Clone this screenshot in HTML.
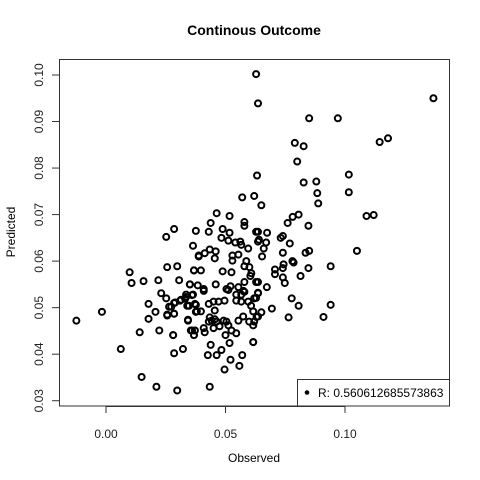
<!DOCTYPE html>
<html><head><meta charset="utf-8"><style>
html,body{margin:0;padding:0;background:#fff;}
svg{display:block;font-family:"Liberation Sans",Arial,sans-serif;}
</style></head><body>
<svg id="chart" width="480" height="480" viewBox="0 0 480 480">
<rect width="480" height="480" fill="#fff"/>
<text x="254" y="35" text-anchor="middle" font-size="14" font-weight="bold">Continous Outcome</text>
<text x="254" y="462" text-anchor="middle" font-size="12">Observed</text>
<text x="0" y="0" transform="translate(15,232) rotate(-90)" text-anchor="middle" font-size="12">Predicted</text>
<g id="axes"></g>
<g id="pts"></g>
<rect x="59.5" y="59.5" width="390" height="346.5" fill="none" stroke="#333" stroke-width="1"/>
<g>
<rect x="297.5" y="379.5" width="152" height="26.5" fill="#fff" stroke="#333" stroke-width="1"/>
<circle cx="307" cy="392.5" r="2.3" fill="#000"/>
<text x="318" y="397" font-size="12">R: 0.560612685573863</text>
</g>
</svg>
<script>
const xTicks=[0.00,0.05,0.10];
const xTickLabels=["0.00","0.05","0.10"];
const yTicks=[0.03,0.04,0.05,0.06,0.07,0.08,0.09,0.10];
const yTickLabels=["0.03","0.04","0.05","0.06","0.07","0.08","0.09","0.10"];
const observed=[0.0628,0.0636,0.085,0.097,0.137,0.079,0.0827,0.080,0.1145,0.118,0.0632,0.1016,0.0827,0.088,0.1016,0.0884,0.0888,0.062,0.065,0.109,0.112,0.0806,0.0781,0.076,0.0847,0.0628,0.0674,0.064,0.067,0.0731,0.074,0.0769,0.066,0.0653,0.074,0.0835,0.085,0.105,0.078,0.0785,0.0743,0.074,0.0707,0.0707,0.0847,0.094,0.0814,0.074,0.0748,0.0636,0.0673,0.0636,0.062,0.0777,0.0806,0.094,0.0694,0.065,0.063,0.062,0.0764,0.091,0.0616,
0.0285,0.0252,0.0376,0.0364,0.0388,0.0099,0.0107,0.0157,0.0219,0.0256,0.0298,0.0368,0.0306,0.0351,0.0231,0.0252,0.0178,0.0207,0.0178,0.0273,0.0285,0.0314,0.0335,0.036,0.034,0.0376,0.0285,0.0256,0.0376,0.0343,-0.0124,-0.0017,0.0141,0.0223,0.0281,0.0355,0.0368,0.0062,0.0285,0.0322,0.0149,0.0211,0.0298,
0.057,0.0463,0.0517,0.0438,0.0579,0.0579,0.043,0.0488,0.0517,0.0483,0.0512,0.0541,0.0562,0.0566,0.0636,0.0636,0.0595,0.0434,0.0459,0.0413,0.0388,0.0455,0.0529,0.0554,0.0529,0.0587,0.0579,0.060,0.0368,0.0397,0.0488,0.0525,0.0608,0.0604,0.0351,0.0384,0.0409,0.0459,0.0504,0.0521,0.0554,0.0579,0.0628,0.0575,
0.0335,0.0364,0.0409,0.0512,0.0545,0.0566,0.0579,0.0628,0.0636,0.0264,0.0289,0.031,0.0331,0.0347,0.0372,0.038,0.0397,0.0256,0.0285,0.043,0.045,0.0471,0.0496,0.0455,0.0545,0.0566,0.0595,0.0607,0.0616,0.0554,0.0574,0.0599,0.0636,0.0616,0.0434,0.0442,0.0455,0.0463,0.0492,0.043,0.0343,0.036,0.0372,0.0409,0.0413,0.045,0.0475,0.0504,0.0512,0.0525,0.0281,0.0368,0.050,0.0545,0.0616,0.0438,0.0517,0.0483,0.0426,0.0463,0.057,0.0521,0.0558,0.0496,0.0434];
const predicted=[0.1002,0.0939,0.0907,0.0907,0.095,0.0854,0.0847,0.0814,0.0856,0.0864,0.0784,0.0786,0.0769,0.0771,0.0748,0.0746,0.0724,0.074,0.072,0.0697,0.0699,0.070,0.0695,0.0682,0.0676,0.0663,0.0661,0.0646,0.064,0.065,0.0654,0.0638,0.0627,0.061,0.0618,0.0618,0.0622,0.0622,0.060,0.0597,0.0593,0.0585,0.0582,0.0572,0.0585,0.0589,0.0568,0.0565,0.0553,0.0555,0.0544,0.0531,0.052,0.052,0.0504,0.0506,0.0498,0.049,0.048,0.047,0.0479,0.048,0.0426,
0.0669,0.0652,0.0665,0.0633,0.061,0.0576,0.0553,0.0557,0.0559,0.0587,0.0589,0.058,0.0559,0.055,0.0531,0.052,0.0508,0.0491,0.0476,0.0502,0.051,0.0517,0.0523,0.0527,0.0504,0.0506,0.0487,0.0483,0.0491,0.0474,0.0472,0.0491,0.0447,0.0451,0.0441,0.0451,0.0441,0.0411,0.0402,0.0411,0.0351,0.033,0.0322,
0.0737,0.0703,0.0697,0.0682,0.0684,0.0676,0.0663,0.0669,0.0661,0.065,0.0644,0.064,0.0642,0.0635,0.0663,0.0642,0.0627,0.0625,0.0621,0.0617,0.0612,0.0606,0.0612,0.0614,0.0601,0.060,0.0589,0.0587,0.058,0.058,0.0578,0.0576,0.0574,0.0568,0.055,0.0548,0.054,0.055,0.054,0.0546,0.0544,0.0555,0.0555,0.0536,
0.0528,0.0528,0.0536,0.0538,0.0528,0.0528,0.0534,0.0521,0.0532,0.0502,0.0511,0.0515,0.0519,0.0504,0.0508,0.0492,0.0492,0.0485,0.0487,0.0508,0.0513,0.0513,0.0515,0.0494,0.0515,0.0513,0.0513,0.0504,0.0492,0.0472,0.0481,0.047,0.0481,0.0462,0.0479,0.0472,0.0475,0.047,0.0472,0.047,0.0472,0.0451,0.0451,0.0456,0.0447,0.0456,0.046,0.047,0.0462,0.0451,0.0441,0.0441,0.0441,0.0445,0.0426,0.042,0.0424,0.0409,0.0398,0.0398,0.0398,0.0388,0.0375,0.0367,0.033];
const NS="http://www.w3.org/2000/svg";
function sx(v){return 106+(v-0)*2390;}
function sy(v){return 75+(0.10-v)*4653;}
const axes=document.getElementById('axes');
function mk(tag,attrs,parent){const e=document.createElementNS(NS,tag);for(const k in attrs)e.setAttribute(k,attrs[k]);parent.appendChild(e);return e;}
let xl=mk('line',{x1:sx(xTicks[0]),x2:sx(xTicks[xTicks.length-1]),y1:406.5,y2:406.5,stroke:'#333'},axes);


xTicks.forEach((t,i)=>{
 const l=mk('line',{x1:sx(t),x2:sx(t),y1:406,y2:413,stroke:'#333'},axes);
 
 
 const tx=mk('text',{x:sx(t),y:438,'text-anchor':'middle','font-size':'12',fill:'#222'},axes);
 
 
 tx.textContent=xTickLabels[i];
});
let yl=mk('line',{x1:59.5,x2:59.5,y1:sy(yTicks[0]),y2:sy(yTicks[yTicks.length-1]),stroke:'#333'},axes);


yTicks.forEach((t,i)=>{
 const y=sy(t);
 const l=mk('line',{x1:52,x2:59,y1:y,y2:y,stroke:'#333'},axes);
 
 
 const tx=mk('text',{x:0,y:0,transform:'translate(43,'+y+') rotate(-90)','text-anchor':'middle','font-size':'12',fill:'#222'},axes);
 
 
 tx.textContent=yTickLabels[i];
});
const pts=document.getElementById('pts');
observed.forEach((o,i)=>{
 const c=mk('circle',{cx:sx(o),cy:sy(predicted[i]),r:3,fill:'none',stroke:'#000','stroke-width':2},pts);
 
 
});
</script>
</body></html>
